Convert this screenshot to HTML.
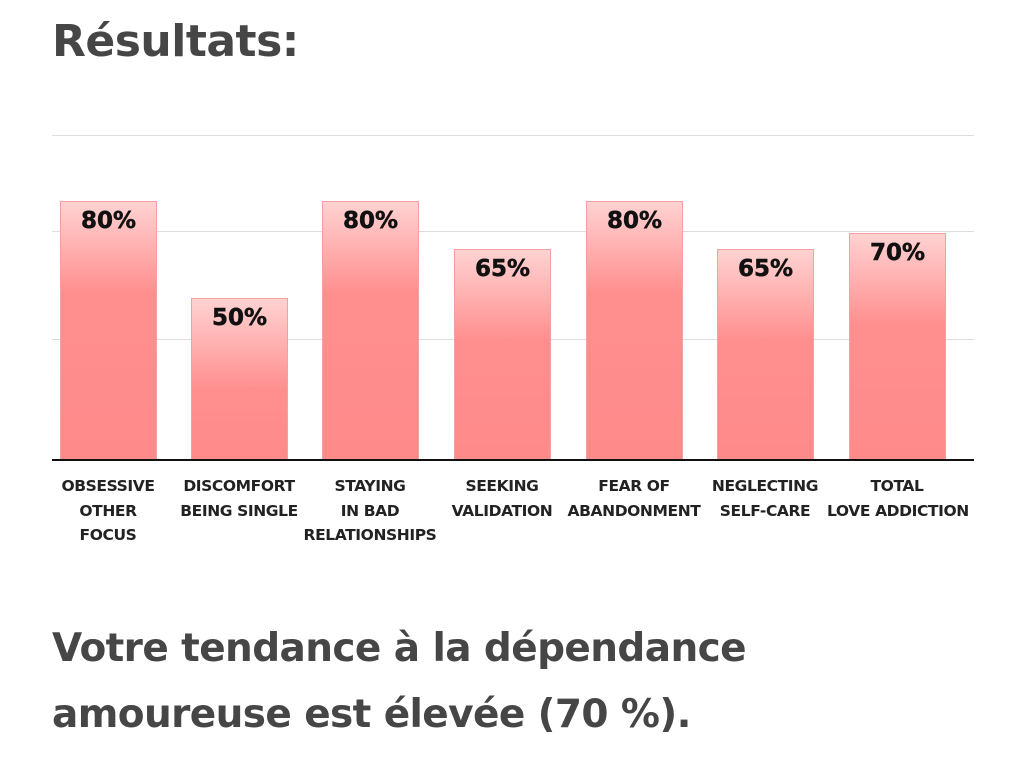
<!DOCTYPE html>
<html><head><meta charset="utf-8"><style>
body{margin:0;width:1024px;height:769px;background:#fff;font-family:"Liberation Sans","DejaVu Sans",sans-serif;overflow:hidden;position:relative}
.h{position:absolute;left:52px;color:#464646;font-weight:bold}
.g{position:absolute;left:52px;width:922px;height:1px;background:#ddd}
.bar{position:absolute;width:97px;bottom:309px;background:linear-gradient(#ffd2d2 0px,#ff8f8f 90px,#ff8a8a 100%);border:1px solid #f4a0a0;box-sizing:border-box;text-align:center;font-weight:bold;font-size:23px;color:#111;padding-top:6px;font-family:"DejaVu Sans",sans-serif;-webkit-text-stroke:0.5px #111}
.lab{position:absolute;top:474px;width:140px;text-align:center;font-weight:bold;font-size:15.5px;line-height:24.5px;color:#222;font-family:"DejaVu Sans",sans-serif;letter-spacing:-0.4px;white-space:nowrap}
</style></head><body>
<div class="h" style="top:16px;font-size:44px;font-family:'DejaVu Sans',sans-serif;letter-spacing:-0.5px">Résultats:</div>
<div class="g" style="top:135px"></div>
<div class="g" style="top:231px"></div>
<div class="g" style="top:339px"></div>
<div class="bar" style="left:60px;top:201px">80%</div>
<div class="bar" style="left:191px;top:298px">50%</div>
<div class="bar" style="left:322px;top:201px">80%</div>
<div class="bar" style="left:454px;top:249px">65%</div>
<div class="bar" style="left:586px;top:201px">80%</div>
<div class="bar" style="left:717px;top:249px">65%</div>
<div class="bar" style="left:849px;top:233px">70%</div>
<div style="position:absolute;left:52px;top:459px;width:922px;height:2px;background:#111"></div>
<div class="lab" style="left:38px">OBSESSIVE<br>OTHER<br>FOCUS</div>
<div class="lab" style="left:169px">DISCOMFORT<br>BEING SINGLE</div>
<div class="lab" style="left:300px">STAYING<br>IN BAD<br>RELATIONSHIPS</div>
<div class="lab" style="left:432px">SEEKING<br>VALIDATION</div>
<div class="lab" style="left:564px">FEAR OF<br>ABANDONMENT</div>
<div class="lab" style="left:695px">NEGLECTING<br>SELF-CARE</div>
<div class="lab" style="left:827px">TOTAL<br>LOVE ADDICTION</div>
<div class="h" style="top:616px;font-size:39px;line-height:66px;font-family:'DejaVu Sans',sans-serif;letter-spacing:-0.6px">Votre tendance à la dépendance<br>amoureuse est élevée (70 %).</div>
</body></html>
